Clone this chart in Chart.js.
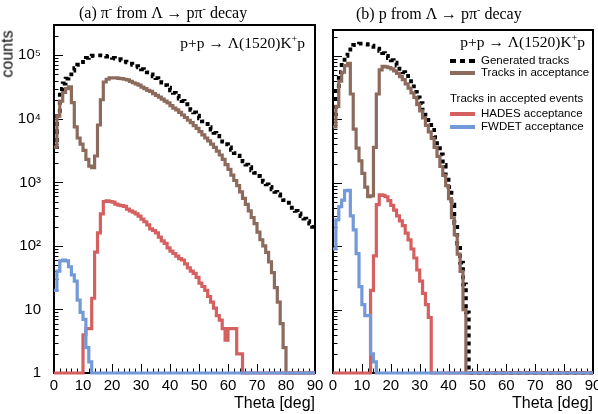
<!DOCTYPE html>
<html>
<head>
<meta charset="utf-8">
<script src="https://cdn.jsdelivr.net/npm/chart.js@4.4.0/dist/chart.umd.min.js"></script>
<style>
  body { margin:0; width:598px; height:414px; position:relative; overflow:hidden; background:#fff;
         font-family:"Liberation Sans", Arial, sans-serif; color:#000; }
  canvas { position:absolute; top:0; }
  .t { position:absolute; white-space:nowrap; line-height:1; }
  .serif { font-family:"Liberation Serif", "Times New Roman", serif; font-size:16px; }
  .rx { font-size:15.5px; }
  .ax { font-size:16px; }
  .lg { font-size:11.5px; }
  .sw { position:absolute; left:450px; width:25px; height:4px; }
  sup { font-size:10px; vertical-align:6px; line-height:0; }
</style>
</head>
<body>
<canvas id="leftChart"></canvas>
<canvas id="rightChart"></canvas>

<div class="t serif" style="left:79px;top:5px">(a) π<sup>-</sup> from Λ → pπ<sup>-</sup> decay</div>
<div class="t serif" style="left:356px;top:6px">(b) p from Λ → pπ<sup>-</sup> decay</div>
<div class="t serif rx" style="right:293px;top:35px">p+p → Λ(1520)K<sup>+</sup>p</div>
<div class="t serif rx" style="right:13px;top:34px">p+p → Λ(1520)K<sup>+</sup>p</div>
<div class="t ax" style="left:-16px;top:46px;transform:rotate(-90deg)">counts</div>
<div class="t ax" style="right:283px;top:395px">Theta [deg]</div>
<div class="t ax" style="right:5px;top:395px">Theta [deg]</div>

<div class="sw" style="top:59px;background:repeating-linear-gradient(90deg,#000 0 6px,transparent 6px 9.5px)"></div>
<div class="t lg" style="left:481px;top:55px">Generated tracks</div>
<div class="sw" style="top:71px;background:#8c6b5d"></div>
<div class="t lg" style="left:481px;top:67px">Tracks in acceptance</div>
<div class="t lg" style="left:450px;top:93px">Tracks in accepted events</div>
<div class="sw" style="top:112px;background:#d65f5f"></div>
<div class="t lg" style="left:481px;top:108px">HADES acceptance</div>
<div class="sw" style="top:125px;background:#7399d8"></div>
<div class="t lg" style="left:481px;top:121px">FWDET acceptance</div>

<script>
// Theta histograms, 1 deg bins from 0 to 90 (counts, 0 = empty bin)
const BIN_W = 1;

// (a) pi- from Lambda decay
const LEFT_GEN = [3600,11000,29500,36000,43000,50000,57500,63000,71000,78000,
  85000,91000,97000,99000,100000,100000,99500,97500,95500,93300,
  91200,89100,87100,83200,79400,77600,74100,70800,67600,64600,
  60300,57500,53700,50100,46800,43700,40700,37200,33900,30900,
  28200,25700,22900,20900,19100,17000,15500,13800,12600,11200,
  10200,9120,8320,7410,6760,6030,5370,4900,4370,3980,
  3550,3240,2880,2630,2340,2140,1910,1740,1550,1410,
  1260,1150,1020,933,851,776,708,646,575,525,
  479,437,398,355,324,295,269,245,224,200];
const LEFT_ACC = [3600,11000,19000,26000,30000,32000,18000,7500,5000,4000,
  3200,2300,1800,1700,2600,8000,20000,38000,42000,44000,
  44000,44000,43500,43000,42000,41000,39000,37000,35500,34000,
  31600,30000,28000,27000,25000,23500,22000,20500,19000,17800,
  16200,14800,13800,12600,11500,10500,9500,8700,7800,7100,
  6300,5600,5000,4500,4000,3550,3100,2700,2300,1900,
  1600,1300,1070,890,710,560,450,355,280,225,
  165,125,100,79,56,38,22,13,6,2.5,
  0,0,0,0,0,0,0,0,0,0];
const LEFT_HADES = [0,0,0,0,0,0,0,0,0,0,
  4,5,5,15,80,160,320,500,510,500,
  490,455,440,430,420,380,355,340,320,295,
  265,240,215,185,175,160,138,120,110,93,
  83,76,69,63,60,52,45,40,37,32,
  26,23,20,16,13,10.5,8,6.8,5,3.3,
  5,5,5,2,2,0,0,0,0,0,
  0,0,0,0,0,0,0,0,0,0,
  0,0,0,0,0,0,0,0,0,0];
const LEFT_FWDET = [20,40,58,60,58,47,35,28,14,9,
  7,2.5,1.5,0,0,0,0,0,0,0,
  0,0,0,0,0,0,0,0,0,0, 0,0,0,0,0,0,0,0,0,0,
  0,0,0,0,0,0,0,0,0,0, 0,0,0,0,0,0,0,0,0,0,
  0,0,0,0,0,0,0,0,0,0, 0,0,0,0,0,0,0,0,0,0,
  0,0,0,0,0,0,0,0,0,0];

// (b) p from Lambda decay
const RIGHT_GEN = [12000,28000,55000,80000,100000,125000,140000,148000,152000,155000,
  155000,152000,150000,145000,138000,130000,120000,110000,100000,92000,
  85000,78000,70000,62000,55000,48000,40000,33000,27000,22000,
  18000,14000,11000,8800,6800,5200,3800,2800,1900,1300,
  850,450,230,110,55,25,9,0,0,0,
  0,0,0,0,0,0,0,0,0,0, 0,0,0,0,0,0,0,0,0,0,
  0,0,0,0,0,0,0,0,0,0, 0,0,0,0,0,0,0,0,0,0];
const RIGHT_ACC = [7600,16000,40000,55000,70000,76000,25000,7000,3500,2200,
  1400,850,600,620,3600,25000,60000,68000,67000,65000,
  62000,58000,53000,47000,42000,36000,31000,26000,22000,17000,
  13500,10500,8000,6300,5000,3600,2600,1800,1300,900,
  560,280,150,75,40,10,0,0,0,0,
  0,0,0,0,0,0,0,0,0,0, 0,0,0,0,0,0,0,0,0,0,
  0,0,0,0,0,0,0,0,0,0, 0,0,0,0,0,0,0,0,0,0];
const RIGHT_HADES = [0,0,0,0,0,0,0,0,0,0,
  0,0,0,20,70,450,640,630,600,520,
  440,370,300,250,210,160,125,90,65,42,
  28,18,12,7.5,0,0,0,0,0,0,
  0,0,0,0,0,0,0,0,0,0, 0,0,0,0,0,0,0,0,0,0,
  0,0,0,0,0,0,0,0,0,0, 0,0,0,0,0,0,0,0,0,0,
  0,0,0,0,0,0,0,0,0,0];
const RIGHT_FWDET = [90,260,420,530,750,760,300,180,76,23,
  12,8,8,2,1.5,0,0,0,0,0,
  0,0,0,0,0,0,0,0,0,0, 0,0,0,0,0,0,0,0,0,0,
  0,0,0,0,0,0,0,0,0,0, 0,0,0,0,0,0,0,0,0,0,
  0,0,0,0,0,0,0,0,0,0, 0,0,0,0,0,0,0,0,0,0,
  0,0,0,0,0,0,0,0,0,0];

const X_MIN = 0, X_MAX = 90;
const Y_MIN = 1;
const Y_TICKS = [1, 10, 100, 1000, 10000, 100000];
const Y_TICK_LABELS = ['1', '10', '10²', '10³', '10⁴', '10⁵'];

const COL = { gen:'#000000', acc:'#8c6b5d', hades:'#d65f5f', fwdet:'#7399d8' };

// bin contents -> step points at bin edges; empty bins sit on the axis floor
function hist(values) {
  const pts = values.map((v, i) => ({ x: X_MIN + i * BIN_W, y: v > 0 ? v : Y_MIN }));
  pts.push({ x: X_MIN + values.length * BIN_W, y: pts[pts.length - 1].y });
  return pts;
}

// ROOT-like frame with inward ticks
const frameTicks = {
  id: 'frameTicks',
  beforeDatasetsDraw(chart) {
    const { ctx, chartArea: a, scales: { x, y } } = chart;
    ctx.save();
    ctx.strokeStyle = '#000';
    ctx.lineWidth = 1;
    ctx.beginPath();
    for (let v = X_MIN; v <= X_MAX; v += 2) {
      const px = Math.round(x.getPixelForValue(v)) + 0.5;
      ctx.moveTo(px, a.bottom);
      ctx.lineTo(px, a.bottom - (v % 10 === 0 ? 9 : 4.5));
    }
    for (let d = 1; d <= y.max; d *= 10) {
      for (let m = 1; m <= 9; m++) {
        const v = d * m;
        if (v > y.max) break;
        const py = Math.round(y.getPixelForValue(v)) + 0.5;
        ctx.moveTo(a.left, py);
        ctx.lineTo(a.left + (m === 1 ? 9 : 4.5), py);
      }
    }
    ctx.stroke();
    ctx.lineWidth = 2;
    ctx.strokeRect(a.left, a.top, a.right - a.left, a.bottom - a.top);
    ctx.restore();
  }
};

function makeChart(id, series, o) {
  const canvas = document.getElementById(id);
  canvas.style.left = o.left + 'px';
  canvas.width = o.width; canvas.height = 414;
  canvas.style.width = o.width + 'px'; canvas.style.height = '414px';
  const line = (data, color, extra) => Object.assign({
    data: hist(data), borderColor: color, borderWidth: 3.2, stepped: 'before',
    pointRadius: 0, fill: false, clip: 6, borderJoinStyle: 'miter'
  }, extra || {});
  return new Chart(canvas, {
    type: 'line',
    data: { datasets: [
      line(series.fwdet, COL.fwdet),
      line(series.hades, COL.hades),
      line(series.acc, COL.acc),
      line(series.gen, COL.gen, { borderDash:[4,4], borderWidth:3.8 }),
    ]},
    options: {
      responsive: false, animation: false, events: [],
      layout: { padding: { top: o.top, right: o.right, left: 0, bottom: 0 } },
      plugins: { legend: { display: false }, tooltip: { enabled: false } },
      scales: {
        x: {
          type: 'linear', min: X_MIN, max: X_MAX,
          grid: { display: false }, border: { display: false },
          ticks: { stepSize: 10, padding: -4, color: '#000', maxRotation: 0,
                   font: { family: "'Liberation Sans', Arial, sans-serif", size: 15 } },
          afterFit: s => { s.height = 41; s.paddingLeft = 0; s.paddingRight = 0; }
        },
        y: {
          type: 'logarithmic', min: Y_MIN, max: o.yMax,
          grid: { display: false }, border: { display: false },
          afterBuildTicks: s => { s.ticks = Y_TICKS.map(v => ({ value: v })); },
          ticks: { display: o.yLabels, autoSkip: false, padding: 5, color: '#000',
                   font: { family: "'Liberation Sans', Arial, sans-serif", size: 15 },
                   callback: v => Y_TICK_LABELS[Y_TICKS.indexOf(v)] },
          afterFit: s => { s.width = o.yWidth; s.paddingTop = 0; s.paddingBottom = 0; }
        }
      }
    },
    plugins: [frameTicks]
  });
}

makeChart('leftChart',
  { gen: LEFT_GEN, acc: LEFT_ACC, hades: LEFT_HADES, fwdet: LEFT_FWDET },
  { left: 0, width: 326, right: 11, top: 25, yWidth: 54, yMax: 3.0e5, yLabels: true });
makeChart('rightChart',
  { gen: RIGHT_GEN, acc: RIGHT_ACC, hades: RIGHT_HADES, fwdet: RIGHT_FWDET },
  { left: 326, width: 272, right: 5, top: 30, yWidth: 7, yMax: 2.55e5, yLabels: false });
</script>
</body>
</html>
